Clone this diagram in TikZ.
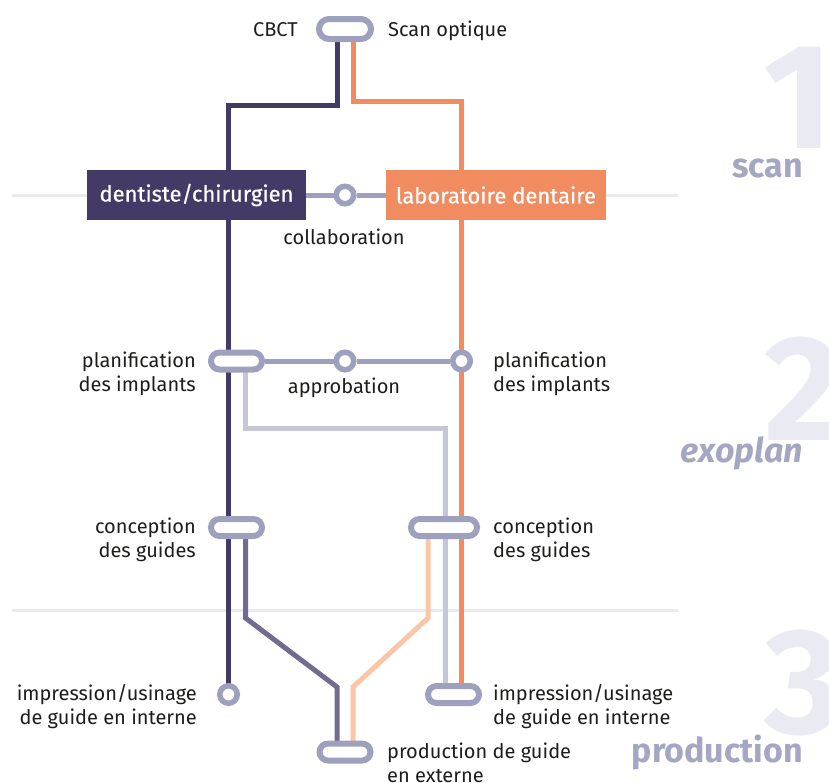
\documentclass[tikz,border=0pt]{standalone}
\usepackage{fontspec}
\setmainfont{Fira Sans}
\newfontfamily\medfont{Fira Sans}[FakeBold=0.5]
\usetikzlibrary{shapes.misc}
\definecolor{darkc}{HTML}{433A66}
\definecolor{orangec}{HTML}{F08C60}
\definecolor{pillc}{HTML}{9EA1BD}
\definecolor{lightc}{HTML}{C5C7D8}
\definecolor{purplec}{HTML}{736A90}
\definecolor{peachc}{HTML}{FBC6A8}
\definecolor{sepc}{HTML}{E9E9F1}
\definecolor{digitc}{HTML}{EAEAF2}
\definecolor{phasec}{HTML}{A3A7C2}
\definecolor{txtc}{HTML}{1D1D1B}
\pgfdeclarelayer{bg}
\pgfdeclarelayer{lines}
\pgfsetlayers{bg,lines,main}
\begin{document}
\begin{tikzpicture}[x=1pt,y=-1pt,
  pill/.style={rounded rectangle, draw=pillc, fill=white, line width=6pt, minimum width=51pt, minimum height=17pt, inner sep=0pt},
  dot/.style={circle, draw=pillc, fill=white, line width=5.5pt, minimum size=17.5pt, inner sep=0pt},
  rolebox/.style={rectangle, minimum height=50pt, inner sep=0pt, text=white, font=\medfont\fontsize{22}{26}\selectfont},
  lbl/.style={inner sep=0pt, text=txtc, font=\fontsize{20}{24}\selectfont},
  seg/.style={line width=5pt},
  sepline/.style={draw=sepc, line width=3pt},
  digit/.style={inner sep=0pt, text=digitc, font=\bfseries\fontsize{150}{150}\selectfont},
  phase/.style={inner sep=0pt, text=phasec, font=\bfseries\fontsize{34}{34}\selectfont},
]
\useasboundingbox (0,0) rectangle (829,782);

% separators and phase marks
\begin{pgfonlayer}{bg}
  \coordinate (s1a) at (12,195); \coordinate (s1b) at (678,195);
  \coordinate (s2a) at (12,610); \coordinate (s2b) at (678,610);
  \draw[sepline] (s1a) -- (s1b);
  \draw[sepline] (s2a) -- (s2b);
  \node[digit, anchor=base west] (d1) at (763,148) {1};
  \node[digit, anchor=base west] (d2) at (764,440) {2};
  \node[digit, anchor=base west] (d3) at (764,733) {3};
\end{pgfonlayer}
\node[phase, anchor=base east] (ph1) at (803,177) {scan};
\node[phase, anchor=base east] (ph2) at (803,462) {\itshape exoplan};
\node[phase, anchor=base east] (ph3) at (803,762) {production};

% stations
\node[pill, minimum width=52pt, minimum height=20pt] (cbct) at (345,29) {};
\node[lbl, anchor=base east] (cbctl) at (298,36) {CBCT};
\node[lbl, anchor=base west] (scanl) at (388,36) {Scan optique};

\node[rolebox, fill=darkc, minimum width=219pt] (dent) at (196.5,195) {dentiste/chirurgien};
\node[rolebox, fill=orangec, minimum width=220pt] (lab) at (496,195) {laboratoire dentaire};
\node[dot] (collab) at (345,195) {};
\node[lbl, anchor=base] (collabl) at (344,244) {collaboration};

\node[pill] (planL) at (236.5,361) {};
\node[dot] (appro) at (345,361) {};
\node[dot] (planR) at (461.5,361) {};
\node[lbl, anchor=base east] (planLl) at (196,367) {\begin{tabular}[t]{@{}r@{}}planification\\des implants\end{tabular}};
\node[lbl, anchor=base west] (planRl) at (493,367) {\begin{tabular}[t]{@{}l@{}}planification\\des implants\end{tabular}};
\node[lbl, anchor=base] (approl) at (344,393) {approbation};

\node[pill] (concL) at (236.5,527.5) {};
\node[pill, minimum width=66pt] (concR) at (444,527.5) {};
\node[lbl, anchor=base east] (concLl) at (196,533) {\begin{tabular}[t]{@{}r@{}}conception\\des guides\end{tabular}};
\node[lbl, anchor=base west] (concRl) at (493,533) {\begin{tabular}[t]{@{}l@{}}conception\\des guides\end{tabular}};

\node[dot] (impL) at (228.5,694.5) {};
\node[pill] (impR) at (453.5,694.5) {};
\node[lbl, anchor=base east] (impLl) at (197,700) {\begin{tabular}[t]{@{}r@{}}impression/usinage\\de guide en interne\end{tabular}};
\node[lbl, anchor=base west] (impRl) at (493,700) {\begin{tabular}[t]{@{}l@{}}impression/usinage\\de guide en interne\end{tabular}};

\node[pill] (prod) at (345,752) {};
\node[lbl, anchor=base west] (prodl) at (387,758) {\begin{tabular}[t]{@{}l@{}}production de guide\\en externe\end{tabular}};

% bends
\coordinate (dk) at (228.5,105);
\coordinate (ok) at (461.5,101);
\coordinate (lgk) at (445,428.5);
\coordinate (pk1) at (245.5,618);
\coordinate (pk2) at (337,687);
\coordinate (ek1) at (428,618);
\coordinate (ek2) at (353,687);

\begin{pgfonlayer}{lines}
  \draw[seg, darkc] ([xshift=-8pt]cbct.center) |- (dk) -- (impL.center);
  \draw[seg, orangec] ([xshift=8pt]cbct.center) |- (ok) -- ([xshift=8pt]impR.center);
  \draw[seg, lightc] ([xshift=9pt]planL.center) |- (lgk) -- ([xshift=-8.5pt]impR.center);
  \draw[seg, purplec] ([xshift=9pt]concL.center) -- (pk1) -- (pk2) -- ([xshift=-8pt]prod.center);
  \draw[seg, peachc] ([xshift=-16pt]concR.center) -- (ek1) -- (ek2) -- ([xshift=8pt]prod.center);
  \draw[seg, pillc] (dent.east) -- (collab) -- (lab.west);
  \draw[seg, pillc] (planL.east) -- (appro) -- (planR);
\end{pgfonlayer}
\end{tikzpicture}
\end{document}
